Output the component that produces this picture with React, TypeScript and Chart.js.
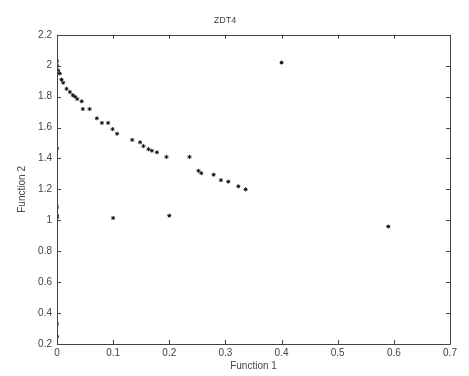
import React, { useEffect, useRef } from "react";
import { Chart, registerables } from "chart.js";

Chart.register(...registerables);

const f1: number[] = [
  0, 0, 0.002, 0.005, 0.008, 0.011, 0.017, 0.023, 0.028, 0.032, 0.036, 0.044, 0.046, 0.058,
  0.071, 0.08, 0.091, 0.099, 0.107, 0.134, 0.148, 0.154, 0.163, 0.169, 0.178, 0.195, 0.236,
  0.252, 0.257, 0.279, 0.292, 0.305, 0.323, 0.336, 0.4, 0.59, 0.1, 0.2, 0, 0, 0, 0, 0, 0,
];
const f2: number[] = [
  2.03, 2.0, 1.97, 1.95, 1.91, 1.89, 1.85, 1.83, 1.81, 1.8, 1.785, 1.77, 1.72, 1.72,
  1.66, 1.63, 1.63, 1.59, 1.56, 1.52, 1.505, 1.48, 1.46, 1.45, 1.44, 1.41, 1.41,
  1.32, 1.305, 1.295, 1.26, 1.25, 1.22, 1.2, 2.02, 0.96, 1.015, 1.03, 1.466, 1.086, 1.03,
  1.017, 0.33, 0.247,
];
const xTicks: number[] = [0, 0.1, 0.2, 0.3, 0.4, 0.5, 0.6, 0.7];
const yTicks: number[] = [0.2, 0.4, 0.6, 0.8, 1, 1.2, 1.4, 1.6, 1.8, 2, 2.2];

const AXIS = "#444";
const TEXT = "#444";
const FONT = "'Liberation Sans', Arial, sans-serif";

const boxPlugin = {
  id: "matlabBox",
  afterDraw(chart: any) {
    const { ctx, chartArea } = chart;
    const { left, right, top, bottom } = chartArea;
    const xs = chart.scales.x;
    const ys = chart.scales.y;
    ctx.save();
    ctx.strokeStyle = AXIS;
    ctx.lineWidth = 1;
    ctx.beginPath();
    ctx.rect(Math.round(left) + 0.5, Math.round(top) + 0.5, Math.round(right - left), Math.round(bottom - top));
    ctx.stroke();
    const L = 4;
    ctx.beginPath();
    xTicks.forEach((v) => {
      const px = Math.round(xs.getPixelForValue(v)) + 0.5;
      ctx.moveTo(px, bottom);
      ctx.lineTo(px, bottom - L);
      ctx.moveTo(px, top);
      ctx.lineTo(px, top + L);
    });
    yTicks.forEach((v) => {
      const py = Math.round(ys.getPixelForValue(v)) + 0.5;
      ctx.moveTo(left, py);
      ctx.lineTo(left + L, py);
      ctx.moveTo(right, py);
      ctx.lineTo(right - L, py);
    });
    ctx.stroke();
    ctx.restore();
  },
};

export default function App() {
  const ref = useRef<HTMLCanvasElement | null>(null);
  useEffect(() => {
    if (!ref.current) return;
    const data = f1.map((x, i) => ({ x, y: f2[i] }));
    const fmt = (v: any) => String(Number(Number(v).toFixed(1)));
    const chart = new Chart(ref.current, {
      type: "scatter",
      data: {
        datasets: [
          {
            data,
            pointStyle: "star",
            radius: 2,
            borderWidth: 1,
            borderColor: "#111",
            backgroundColor: "#111",
          },
        ],
      },
      plugins: [boxPlugin],
      options: {
        animation: false,
        responsive: false,
        layout: { padding: { left: 0, right: 19, top: 0, bottom: 0 } },
        plugins: {
          legend: { display: false },
          tooltip: { enabled: false },
          title: {
            display: true,
            text: "ZDT4",
            color: TEXT,
            font: { family: FONT, size: 9, weight: "normal" },
            padding: { top: 15, bottom: 9 },
          },
        },
        scales: {
          x: {
            type: "linear",
            min: 0,
            max: 0.7,
            afterBuildTicks: (s: any) => {
              s.ticks = xTicks.map((v) => ({ value: v }));
            },
            afterFit: (s: any) => {
              s.height = 32;
            },
            grid: { display: false, drawTicks: false },
            border: { display: false },
            ticks: {
              color: TEXT,
              font: { family: FONT, size: 10 },
              padding: 3,
              maxRotation: 0,
              callback: fmt,
            },
            title: {
              display: true,
              text: "Function 1",
              color: TEXT,
              font: { family: FONT, size: 10 },
              padding: { top: 0, bottom: 4 },
            },
          },
          y: {
            type: "linear",
            min: 0.2,
            max: 2.2,
            afterBuildTicks: (s: any) => {
              s.ticks = yTicks.map((v) => ({ value: v }));
            },
            afterFit: (s: any) => {
              s.width = 57;
            },
            grid: { display: false, drawTicks: false },
            border: { display: false },
            ticks: {
              color: TEXT,
              font: { family: FONT, size: 10 },
              padding: 5,
              callback: fmt,
            },
            title: {
              display: true,
              text: "Function 2",
              color: TEXT,
              font: { family: FONT, size: 10 },
              padding: { top: 16, bottom: 0 },
            },
          },
        },
      },
    });
    return () => chart.destroy();
  }, []);
  return (
    <div style={{ position: "fixed", left: 0, top: 0, width: 469, height: 376, background: "#fff" }}>
      <canvas ref={ref} width={469} height={376} style={{ width: 469, height: 376 }} />
    </div>
  );
}
